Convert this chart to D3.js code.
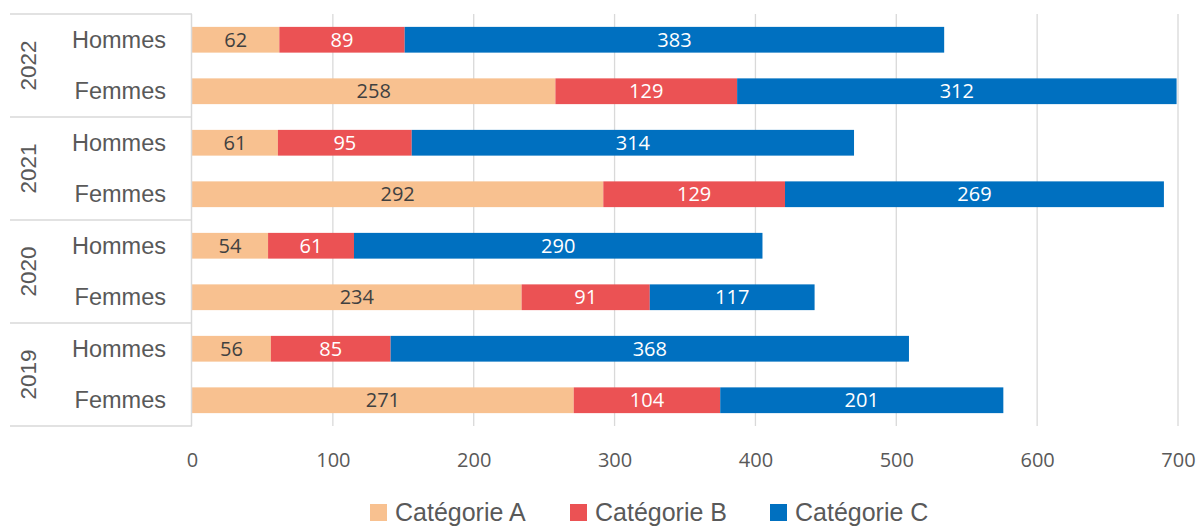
<!DOCTYPE html>
<html>
<head>
<meta charset="utf-8">
<script src="https://cdn.jsdelivr.net/npm/d3@7"></script>
<style>
  html, body { margin: 0; padding: 0; background: #fff; }
  svg { display: block; }
</style>
</head>
<body>
<svg id="chart" width="1200" height="527"></svg>
<script>
// Stacked horizontal bars: counts per year and sex, split into three categories
const years = ["2022", "2021", "2020", "2019"];
const sexes = ["Hommes", "Femmes"];
const seriesNames = ["Catégorie A", "Catégorie B", "Catégorie C"];
const catA = [62, 258, 61, 292, 54, 234, 56, 271];
const catB = [89, 129, 95, 129, 61, 91, 85, 104];
const catC = [383, 312, 314, 269, 290, 117, 368, 201];
const xTicks = [0, 100, 200, 300, 400, 500, 600, 700];

const colors = ["#F8C190", "#EB5254", "#0070C0"];
const labelColors = ["#404040", "#ffffff", "#ffffff"];

// one row per (year, sex) pair, top to bottom
const rows = [];
years.forEach((y, i) => sexes.forEach((s, j) => {
  const k = i * 2 + j;
  rows.push({ key: y + "|" + s, year: y, sex: s, values: [catA[k], catB[k], catC[k]] });
}));

const svg = d3.select("#chart");
const margin = { left: 192, right: 22, top: 14, bottom: 101 };
const W = 1200, H = 527;

const x = d3.scaleLinear().domain([0, 700]).range([margin.left, W - margin.right]);
const y = d3.scaleBand().domain(rows.map(r => r.key))
  .range([margin.top, H - margin.bottom]).paddingInner(0.5).paddingOuter(0.25);

// vertical gridlines
svg.append("g").selectAll("line").data(xTicks.filter(t => t > 0)).join("line")
  .attr("x1", d => x(d)).attr("x2", d => x(d))
  .attr("y1", margin.top).attr("y2", H - margin.bottom)
  .attr("stroke", "#d9d9d9").attr("stroke-width", 1.3);

// x axis tick labels
const xAxis = d3.axisBottom(x).tickValues(xTicks).tickSize(0).tickPadding(0);
const gx = svg.append("g").attr("transform", `translate(0,${H - margin.bottom})`).call(xAxis);
gx.select(".domain").remove();
gx.selectAll("text")
  .attr("dy", 0).attr("y", 41)
  .attr("font-family", "'Open Sans', sans-serif").attr("font-size", 20)
  .attr("fill", "#595959");

// stacked segments
const stackData = rows.map(r => {
  let acc = 0;
  return r.values.map((v, i) => {
    const seg = { key: r.key, i, v, x0: acc, x1: acc + v };
    acc += v;
    return seg;
  });
}).flat();

svg.append("g").selectAll("rect").data(stackData).join("rect")
  .attr("x", d => x(d.x0)).attr("width", d => x(d.x1) - x(d.x0))
  .attr("y", d => y(d.key)).attr("height", y.bandwidth())
  .attr("fill", d => colors[d.i]);

svg.append("g").selectAll("text").data(stackData).join("text")
  .attr("x", d => (x(d.x0) + x(d.x1)) / 2)
  .attr("y", d => y(d.key) + y.bandwidth() / 2)
  .attr("dy", "0.36em").attr("text-anchor", "middle")
  .attr("font-family", "'Open Sans', sans-serif").attr("font-size", 20)
  .attr("fill", d => labelColors[d.i])
  .text(d => d.v);

// left category axis: group separators, sex labels, rotated years
const axisColor = "#d9d9d9";
const left = svg.append("g");
const bounds = [margin.top];
years.forEach((yr, i) => bounds.push(margin.top + (i + 1) * (H - margin.bottom - margin.top) / years.length));
left.selectAll("line.sep").data(bounds).join("line")
  .attr("class", "sep")
  .attr("x1", 10).attr("x2", margin.left)
  .attr("y1", d => d).attr("y2", d => d)
  .attr("stroke", axisColor).attr("stroke-width", 1.5);
left.append("line")
  .attr("x1", margin.left - 0.5).attr("x2", margin.left - 0.5)
  .attr("y1", margin.top).attr("y2", H - margin.bottom)
  .attr("stroke", axisColor).attr("stroke-width", 1.5);

left.selectAll("text.sex").data(rows).join("text")
  .attr("class", "sex")
  .attr("x", 166).attr("y", d => y(d.key) + y.bandwidth() / 2)
  .attr("dy", "0.35em").attr("text-anchor", "end")
  .attr("font-family", "'Liberation Sans', Arial, sans-serif").attr("font-size", 23.5)
  .attr("fill", "#595959")
  .text(d => d.sex);

left.selectAll("text.year").data(years).join("text")
  .attr("class", "year")
  .attr("transform", (d, i) => `translate(36,${(bounds[i] + bounds[i + 1]) / 2}) rotate(-90)`)
  .attr("text-anchor", "middle")
  .attr("font-family", "'Liberation Sans', Arial, sans-serif").attr("font-size", 22.5)
  .attr("fill", "#595959")
  .text(d => d);

// legend
const legendX = [370, 570, 770];
const legend = svg.append("g").selectAll("g").data(seriesNames).join("g")
  .attr("transform", (d, i) => `translate(${legendX[i]},504)`);
legend.append("rect").attr("width", 17).attr("height", 17).attr("fill", (d, i) => colors[i]);
legend.append("text")
  .attr("x", 25).attr("y", 17)
  .attr("font-family", "'Liberation Sans', Arial, sans-serif").attr("font-size", 25)
  .attr("fill", "#595959")
  .text(d => d);
</script>
</body>
</html>
